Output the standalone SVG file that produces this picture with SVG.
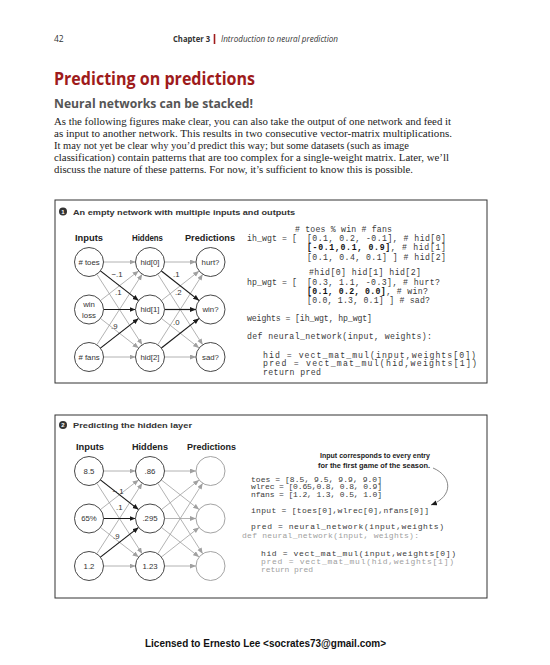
<svg xmlns="http://www.w3.org/2000/svg" width="550" height="665" viewBox="0 0 550 665">
<defs>
<style>
.hdr{font-family:"Open Sans","Liberation Sans",sans-serif;font-size:8.5px;fill:#333}
.body{font-family:"Liberation Serif",serif;font-size:10.4px;fill:#222}
.box{fill:none;stroke:#333;stroke-width:1}
.ftitle{font-family:"Liberation Sans",Arial,sans-serif;font-size:8px;font-weight:bold;fill:#333}
.col{font-family:"Liberation Sans",Arial,sans-serif;font-size:9.2px;font-weight:bold;fill:#222}
.node circle{fill:#fff;stroke:#333;stroke-width:0.9}
.node.empty circle{stroke:#999}
.lbl{font-family:"Liberation Sans",Arial,sans-serif;font-size:7.8px;fill:#333;text-anchor:middle}
.w{font-family:"Liberation Sans",Arial,sans-serif;font-size:7.8px;fill:#333}
.code{font-family:"Liberation Mono","Courier New",monospace;font-size:8.2px;fill:#3a3a3a}
.code2{font-family:"Liberation Mono","Courier New",monospace;font-size:8px;fill:#3a3a3a}
.light{fill:#a0a0a0}
.b{font-weight:bold;fill:#111}
.ann{font-family:"Liberation Sans",Arial,sans-serif;font-size:6.9px;font-weight:bold;fill:#222}
.g{stroke:#a0a0a0;stroke-width:0.8;fill:none;marker-end:url(#ag)}
.k{stroke:#1a1a1a;stroke-width:1.2;fill:none;marker-end:url(#ak)}
.icon{fill:#333}
.icontxt{font-family:"Liberation Sans",Arial,sans-serif;font-size:6px;font-weight:bold;fill:#fff;text-anchor:middle}
</style>
<marker id="ag" markerUnits="userSpaceOnUse" markerWidth="7" markerHeight="6" refX="6" refY="2.5" orient="auto">
<path d="M0,0 L6,2.5 L0,5 z" fill="#a0a0a0"/>
</marker>
<marker id="ak" markerUnits="userSpaceOnUse" markerWidth="7" markerHeight="6" refX="6" refY="2.5" orient="auto">
<path d="M0,0 L6,2.5 L0,5 z" fill="#1a1a1a"/>
</marker>
</defs>
<rect width="550" height="665" fill="#fff"/>

<g id="page-header">
<text class="hdr" x="54" y="42">42</text>
<text class="hdr" x="173" y="42" font-weight="bold" textLength="37" lengthAdjust="spacingAndGlyphs">Chapter 3</text>
<line x1="214.5" y1="34" x2="214.5" y2="44" stroke="#a01c1c" stroke-width="1.6"/>
<text class="hdr" x="221" y="42" font-style="italic" textLength="117" lengthAdjust="spacingAndGlyphs">Introduction to neural prediction</text>
<text x="54" y="85" font-family="'Open Sans','Liberation Sans',sans-serif" font-size="17" font-weight="bold" fill="#9e1b1b" textLength="201" lengthAdjust="spacingAndGlyphs">Predicting on predictions</text>
<text x="54" y="108" font-family="'Open Sans','Liberation Sans',sans-serif" font-size="12.5" font-weight="bold" fill="#555" textLength="199" lengthAdjust="spacingAndGlyphs">Neural networks can be stacked!</text>
<text class="body" x="54" y="124.5" textLength="397" lengthAdjust="spacingAndGlyphs">As the following figures make clear, you can also take the output of one network and feed it</text>
<text class="body" x="54" y="136.5" textLength="398" lengthAdjust="spacingAndGlyphs">as input to another network. This results in two consecutive vector-matrix multiplications.</text>
<text class="body" x="54" y="148.5" textLength="355" lengthAdjust="spacingAndGlyphs">It may not yet be clear why you’d predict this way; but some datasets (such as image</text>
<text class="body" x="54" y="160.5" textLength="395" lengthAdjust="spacingAndGlyphs">classification) contain patterns that are too complex for a single-weight matrix. Later, we’ll</text>
<text class="body" x="54" y="172.5" textLength="359" lengthAdjust="spacingAndGlyphs">discuss the nature of these patterns. For now, it’s sufficient to know this is possible.</text>
</g>

<!-- ============ FIGURE 1 ============ -->
<g id="fig1-frame">
<rect class="box" x="55" y="200" width="432" height="183"/>
<circle class="icon" cx="63" cy="211.5" r="4"/>
<text class="icontxt" x="63" y="213.7">1</text>
<text class="ftitle" x="73" y="214.5" textLength="222" lengthAdjust="spacingAndGlyphs">An empty network with multiple inputs and outputs</text>
<text class="col" x="75" y="240.5" textLength="28" lengthAdjust="spacingAndGlyphs">Inputs</text>
<text class="col" x="132" y="240.5" textLength="31" lengthAdjust="spacingAndGlyphs">Hiddens</text>
<text class="col" x="185" y="240.5" textLength="50" lengthAdjust="spacingAndGlyphs">Predictions</text>
</g>

<g id="fig1-connectors">
<line class="g" x1="103.5" y1="262" x2="135.5" y2="262"/>
<line class="g" x1="96.8" y1="274.2" x2="142.2" y2="344.8"/>
<line class="g" x1="100.4" y1="300.6" x2="138.6" y2="270.9"/>
<line class="g" x1="100.4" y1="318.4" x2="138.6" y2="348.1"/>
<line class="g" x1="96.8" y1="344.8" x2="142.2" y2="274.2"/>
<line class="g" x1="103.5" y1="357" x2="135.5" y2="357"/>
<line class="k" x1="100.4" y1="270.9" x2="138.6" y2="300.6"/>
<line class="k" x1="103.5" y1="309.5" x2="135.5" y2="309.5"/>
<line class="k" x1="100.4" y1="348.1" x2="138.6" y2="318.4"/>
<line class="g" x1="164.5" y1="262" x2="196" y2="262"/>
<line class="g" x1="157.8" y1="274.2" x2="202.7" y2="344.8"/>
<line class="g" x1="161.4" y1="300.6" x2="199.1" y2="271"/>
<line class="g" x1="161.4" y1="318.4" x2="199.1" y2="348"/>
<line class="g" x1="157.8" y1="344.8" x2="202.7" y2="274.2"/>
<line class="g" x1="164.5" y1="357" x2="196" y2="357"/>
<line class="k" x1="161.4" y1="271" x2="199.1" y2="300.6"/>
<line class="k" x1="164.5" y1="309.5" x2="196" y2="309.5"/>
<line class="k" x1="161.4" y1="348" x2="199.1" y2="318.4"/>
<text class="w" x="111.5" y="277">−.1</text>
<text class="w" x="115" y="294.5">.1</text>
<text class="w" x="111" y="329">.9</text>
<text class="w" x="173" y="277">.1</text>
<text class="w" x="175" y="295">.2</text>
<text class="w" x="173" y="325">.0</text>
</g>

<g id="fig1-in0" class="node"><circle cx="89" cy="262" r="14.5"/><text class="lbl" x="89" y="264.8"># toes</text></g>
<g id="fig1-in1" class="node"><circle cx="89" cy="309.5" r="14.5"/><text class="lbl" x="89" y="307">win</text><text class="lbl" x="89" y="317.5">loss</text></g>
<g id="fig1-in2" class="node"><circle cx="89" cy="357" r="14.5"/><text class="lbl" x="89" y="359.8"># fans</text></g>
<g id="fig1-hid0" class="node"><circle cx="150" cy="262" r="14.5"/><text class="lbl" x="150" y="264.8">hid[0]</text></g>
<g id="fig1-hid1" class="node"><circle cx="150" cy="309.5" r="14.5"/><text class="lbl" x="150" y="312.3">hid[1]</text></g>
<g id="fig1-hid2" class="node"><circle cx="150" cy="357" r="14.5"/><text class="lbl" x="150" y="359.8">hid[2]</text></g>
<g id="fig1-out0" class="node"><circle cx="210.5" cy="262" r="14.5"/><text class="lbl" x="210.5" y="264.8">hurt?</text></g>
<g id="fig1-out1" class="node"><circle cx="210.5" cy="309.5" r="14.5"/><text class="lbl" x="210.5" y="312.3">win?</text></g>
<g id="fig1-out2" class="node"><circle cx="210.5" cy="357" r="14.5"/><text class="lbl" x="210.5" y="359.8">sad?</text></g>

<g id="fig1-code">
<text class="code" x="295" y="231.5" textLength="97" lengthAdjust="spacing"># toes % win # fans</text>
<text class="code" x="247" y="241" textLength="50" lengthAdjust="spacing">ih_wgt = [</text>
<text class="code" x="307" y="241" textLength="139" lengthAdjust="spacing">[0.1, 0.2, -0.1], # hid[0]</text>
<text class="code" x="307" y="250" textLength="139" lengthAdjust="spacing"><tspan class="b">[-0.1,0.1, 0.9]</tspan>, # hid[1]</text>
<text class="code" x="307" y="259.5" textLength="139" lengthAdjust="spacing">[0.1, 0.4, 0.1] ] # hid[2]</text>
<text class="code" x="309" y="274.5" textLength="112" lengthAdjust="spacing">#hid[0] hid[1] hid[2]</text>
<text class="code" x="247" y="284.5" textLength="50" lengthAdjust="spacing">hp_wgt = [</text>
<text class="code" x="307" y="284.5" textLength="133" lengthAdjust="spacing">[0.3, 1.1, -0.3], # hurt?</text>
<text class="code" x="307" y="294" textLength="121" lengthAdjust="spacing"><tspan class="b">[0.1, 0.2, 0.0]</tspan>, # win?</text>
<text class="code" x="307" y="302.5" textLength="123" lengthAdjust="spacing">[0.0, 1.3, 0.1] ] # sad?</text>
<text class="code" x="247" y="320.5" textLength="125" lengthAdjust="spacing">weights = [ih_wgt, hp_wgt]</text>
<text class="code" x="247" y="339" textLength="185" lengthAdjust="spacing">def neural_network(input, weights):</text>
<text class="code" x="263" y="358" textLength="213" lengthAdjust="spacing">hid = vect_mat_mul(input,weights[0])</text>
<text class="code" x="263" y="366" textLength="214" lengthAdjust="spacing">pred = vect_mat_mul(hid,weights[1])</text>
<text class="code" x="263" y="375" textLength="58" lengthAdjust="spacing">return pred</text>
</g>

<!-- ============ FIGURE 2 ============ -->
<g id="fig2-frame">
<rect class="box" x="55" y="415" width="432" height="183"/>
<circle class="icon" cx="63" cy="425" r="4"/>
<text class="icontxt" x="63" y="427.2">2</text>
<text class="ftitle" x="73" y="428" textLength="119" lengthAdjust="spacingAndGlyphs">Predicting the hidden layer</text>
<text class="col" x="76" y="449.5" textLength="28" lengthAdjust="spacingAndGlyphs">Inputs</text>
<text class="col" x="132" y="449.5" textLength="36" lengthAdjust="spacingAndGlyphs">Hiddens</text>
<text class="col" x="187" y="449.5" textLength="49" lengthAdjust="spacingAndGlyphs">Predictions</text>
</g>

<g id="fig2-connectors">
<line class="g" x1="103.5" y1="471" x2="135.5" y2="471"/>
<line class="g" x1="96.8" y1="483.2" x2="142.2" y2="553.8"/>
<line class="g" x1="100.4" y1="509.6" x2="138.6" y2="479.9"/>
<line class="g" x1="100.4" y1="527.4" x2="138.6" y2="557.1"/>
<line class="g" x1="96.8" y1="553.8" x2="142.2" y2="483.2"/>
<line class="g" x1="103.5" y1="566" x2="135.5" y2="566"/>
<line class="k" x1="100.4" y1="479.9" x2="138.6" y2="509.6"/>
<line class="k" x1="103.5" y1="518.5" x2="135.5" y2="518.5"/>
<line class="k" x1="100.4" y1="557.1" x2="138.6" y2="527.4"/>
<line class="g" x1="164.5" y1="471" x2="196" y2="471"/>
<line class="g" x1="161.4" y1="480" x2="199.1" y2="509.6"/>
<line class="g" x1="157.8" y1="483.2" x2="202.7" y2="553.8"/>
<line class="g" x1="161.4" y1="509.6" x2="199.1" y2="480"/>
<line class="g" x1="164.5" y1="518.5" x2="196" y2="518.5"/>
<line class="g" x1="161.4" y1="527.4" x2="199.1" y2="557"/>
<line class="g" x1="157.8" y1="553.8" x2="202.7" y2="483.2"/>
<line class="g" x1="161.4" y1="557" x2="199.1" y2="527.4"/>
<line class="g" x1="164.5" y1="566" x2="196" y2="566"/>
<text class="w" x="112.5" y="494">−.1</text>
<text class="w" x="116" y="510">.1</text>
<text class="w" x="113" y="538.5">.9</text>
</g>

<g id="fig2-in0" class="node"><circle cx="89" cy="471" r="14.5"/><text class="lbl" x="89" y="473.8">8.5</text></g>
<g id="fig2-in1" class="node"><circle cx="89" cy="518.5" r="14.5"/><text class="lbl" x="89" y="521.3">65%</text></g>
<g id="fig2-in2" class="node"><circle cx="89" cy="566" r="14.5"/><text class="lbl" x="89" y="568.8">1.2</text></g>
<g id="fig2-hid0" class="node"><circle cx="150" cy="471" r="14.5"/><text class="lbl" x="150" y="473.8">.86</text></g>
<g id="fig2-hid1" class="node"><circle cx="150" cy="518.5" r="14.5"/><text class="lbl" x="150" y="521.3">.295</text></g>
<g id="fig2-hid2" class="node"><circle cx="150" cy="566" r="14.5"/><text class="lbl" x="150" y="568.8">1.23</text></g>
<g id="fig2-out0" class="node empty"><circle cx="210.5" cy="471" r="14.5"/></g>
<g id="fig2-out1" class="node empty"><circle cx="210.5" cy="518.5" r="14.5"/></g>
<g id="fig2-out2" class="node empty"><circle cx="210.5" cy="566" r="14.5"/></g>

<g id="fig2-annotation">
<text class="ann" x="320" y="457.5" textLength="110" lengthAdjust="spacingAndGlyphs">Input corresponds to every entry</text>
<text class="ann" x="318" y="467.5" textLength="112" lengthAdjust="spacingAndGlyphs">for the first game of the season.</text>
<path d="M433,468 C452,476 454,496 431,505" fill="none" stroke="#555" stroke-width="0.7" marker-end="url(#ak)"/>
</g>

<g id="fig2-code">
<text class="code2" x="251" y="481.5" textLength="131" lengthAdjust="spacing">toes =  [8.5, 9.5, 9.9, 9.0]</text>
<text class="code2" x="251" y="489" textLength="131" lengthAdjust="spacing">wlrec = [0.65,0.8, 0.8, 0.9]</text>
<text class="code2" x="251" y="496.5" textLength="131" lengthAdjust="spacing">nfans = [1.2, 1.3, 0.5, 1.0]</text>
<text class="code2" x="251" y="513" textLength="178" lengthAdjust="spacing">input = [toes[0],wlrec[0],nfans[0]]</text>
<text class="code2" x="251" y="528.5" textLength="193" lengthAdjust="spacing">pred = neural_network(input,weights)</text>
<text class="code2 light" x="242" y="537.5" textLength="177" lengthAdjust="spacing">def neural_network(input, weights):</text>
<text class="code2" x="261" y="556" textLength="195" lengthAdjust="spacing">hid = vect_mat_mul(input,weights[0])</text>
<text class="code2 light" x="261" y="564" textLength="193" lengthAdjust="spacing">pred = vect_mat_mul(hid,weights[1])</text>
<text class="code2 light" x="261" y="571.5" textLength="52" lengthAdjust="spacing">return pred</text>
</g>

<g id="footer">
<text x="145" y="647" font-family="'Liberation Sans',Arial,sans-serif" font-size="10" font-weight="bold" fill="#111" textLength="241" lengthAdjust="spacingAndGlyphs">Licensed to Ernesto Lee &lt;socrates73@gmail.com&gt;</text>
</g>
</svg>
